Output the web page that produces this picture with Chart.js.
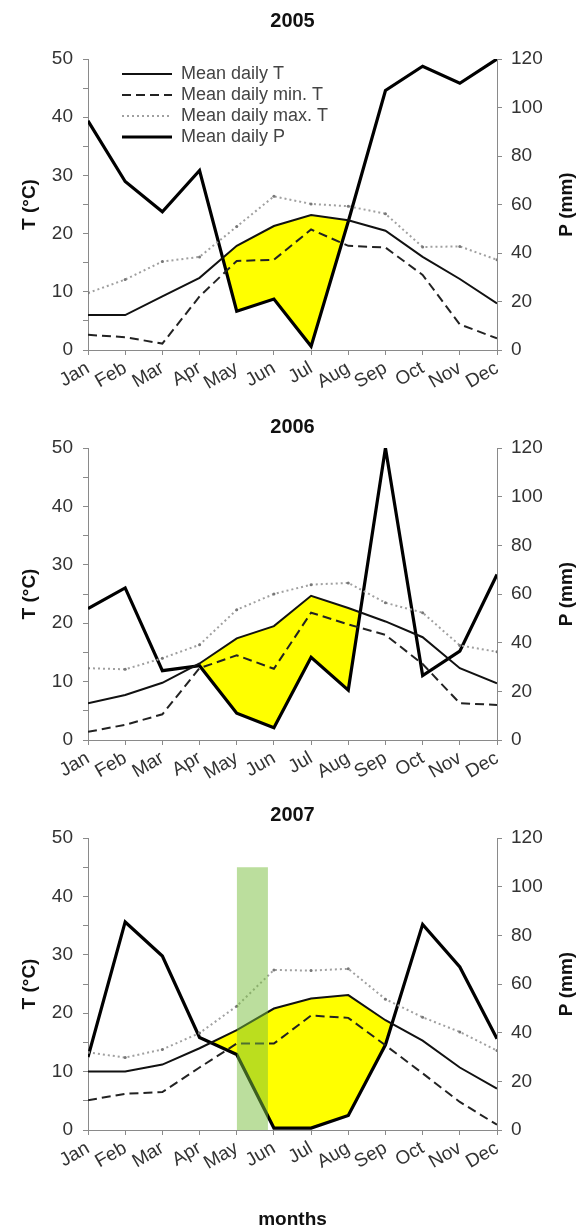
<!DOCTYPE html>
<html>
<head>
<meta charset="utf-8">
<title>Climate diagrams 2005-2007</title>
<script src="https://cdn.jsdelivr.net/npm/chart.js@4.4.1/dist/chart.umd.min.js"></script>
<style>
  body { margin: 0; background: #fff; width: 585px; height: 1231px; position: relative; overflow: hidden; }
  canvas { position: absolute; left: 0; }
  #chart2005 { top: 0; }
  #chart2006 { top: 405px; }
  #chart2007 { top: 795px; }
</style>
</head>
<body>
<canvas id="chart2005" width="585" height="405"></canvas>
<canvas id="chart2006" width="585" height="390"></canvas>
<canvas id="chart2007" width="585" height="436"></canvas>
<script>
// data
const months = ["Jan", "Feb", "Mar", "Apr", "May", "Jun", "Jul", "Aug", "Sep", "Oct", "Nov", "Dec"];
const seriesLabels = ["Mean daily T", "Mean daily min. T", "Mean daily max. T", "Mean daily P"];

const tMean2005 = [6.0, 6.0, 9.2, 12.4, 17.9, 21.3, 23.2, 22.3, 20.5, 16.0, 12.2, 8.0];
const tMin2005  = [2.6, 2.2, 1.1, 9.2, 15.3, 15.5, 20.7, 17.9, 17.6, 12.9, 4.4, 2.0];
const tMax2005  = [9.8, 12.1, 15.2, 16.0, 21.2, 26.4, 25.1, 24.7, 23.4, 17.7, 17.8, 15.5];
const p2005     = [94.5, 69.5, 57, 74, 16, 21, 1.5, 53, 107, 117, 110, 120];

const tMean2006 = [6.3, 7.7, 9.8, 13.1, 17.4, 19.5, 24.7, 22.6, 20.3, 17.6, 12.3, 9.7];
const tMin2006  = [1.4, 2.6, 4.4, 12.3, 14.5, 12.2, 21.8, 19.8, 18.0, 13.0, 6.3, 6.0];
const tMax2006  = [12.3, 12.1, 14.0, 16.3, 22.3, 25.0, 26.6, 26.9, 23.5, 21.8, 16.2, 15.1];
const p2006     = [54, 62.5, 28.5, 30.5, 11, 5, 34, 20.5, 120, 26.5, 36.5, 68];

const tMean2007 = [10.0, 10.0, 11.2, 14.0, 17.1, 20.8, 22.5, 23.1, 18.8, 15.3, 10.7, 7.1];
const tMin2007  = [5.1, 6.2, 6.5, 10.7, 14.8, 14.8, 19.6, 19.2, 14.5, 9.7, 4.8, 0.9];
const tMax2007  = [13.3, 12.4, 13.8, 16.6, 21.2, 27.4, 27.3, 27.6, 22.4, 19.3, 16.8, 13.6];
const p2007     = [30, 85.5, 71.5, 38, 31, 0.8, 0.8, 6, 35, 84.5, 67, 37.5];

// months (first, last index) where the dry season is shaded yellow
const dryRange2005 = [3, 8];
const dryRange2006 = [3, 8];
const dryRange2007 = [2, 9];

// green period in 2007 (month index from / to) and its height in °C
const greenBand2007 = [4.0, 4.84];
const greenBandTop = 45;

const tAxisMax = 50;
const pAxisMax = 120;
const tAxisTitle = "T (°C)";
const pAxisTitle = "P (mm)";
const xAxisTitle = "months";


Chart.defaults.font.family = "'Liberation Sans', Arial, sans-serif";
Chart.defaults.color = "#333";

const yellow = "#ffff00";
const green = "rgba(120,190,60,0.5)";
const axisGray = "#8a8a8a";

// right axis title reads bottom-to-top like the left one
const rightTitle = {
    id: "rightTitle",
    afterDraw(chart) {
        const { ctx, chartArea } = chart;
        ctx.save();
        ctx.translate(chartArea.right + 70, (chartArea.top + chartArea.bottom) / 2);
        ctx.rotate(-Math.PI / 2);
        ctx.font = "bold 19px 'Liberation Sans', Arial, sans-serif";
        ctx.fillStyle = "#111";
        ctx.textAlign = "center";
        ctx.textBaseline = "middle";
        ctx.fillText(pAxisTitle, 0, 0);
        ctx.restore();
    }
};

// nudge the in-plot legend away from the axis
const legendShift = {
    id: "legendShift",
    afterLayout(chart) {
        const lg = chart.legend;
        if (!lg || !chart.options.plugins.legend.display) return;
        const w = lg.width, h = lg.height;
        lg.left = chart.chartArea.left + 31;
        lg.top = chart.chartArea.top + 3;
        lg.right = lg.left + w;
        lg.bottom = lg.top + h;
    }
};

function toPoints(values) {
    return values.map((v, i) => ({ x: i, y: v }));
}

function makeClimateChart(id, year, tMean, tMin, tMax, p, dryRange, opts) {

    const dryP = p.map((v, i) => (i >= dryRange[0] && i <= dryRange[1] ? v : null));

    const datasets = [
        {
            label: seriesLabels[0],
            data: toPoints(tMean),
            yAxisID: "y",
            borderColor: "#111",
            borderWidth: 2,
            pointRadius: 0,
            fill: false
        },
        {
            label: seriesLabels[1],
            data: toPoints(tMin),
            yAxisID: "y",
            borderColor: "#222",
            borderWidth: 2,
            borderDash: [9, 5],
            pointRadius: 0,
            fill: false
        },
        {
            label: seriesLabels[2],
            data: toPoints(tMax),
            yAxisID: "y",
            borderColor: "#a0a0a0",
            borderWidth: 2,
            borderDash: [2, 3],
            pointRadius: 1.5,
            pointBackgroundColor: "#777",
            pointBorderWidth: 0,
            fill: false
        },
        {
            label: seriesLabels[3],
            data: toPoints(p),
            yAxisID: "y1",
            borderColor: "#000",
            borderWidth: 3.2,
            pointRadius: 0,
            fill: false
        },
        {
            // yellow dry-season area between P and T
            label: "",
            data: toPoints(dryP),
            yAxisID: "y1",
            borderWidth: 0,
            pointRadius: 0,
            spanGaps: false,
            backgroundColor: yellow,
            fill: { target: 0, above: "transparent", below: yellow }
        }
    ];

    if (opts.band) {
        datasets.push({
            label: "",
            data: opts.band.map(x => ({ x, y: greenBandTop })),
            yAxisID: "y",
            borderWidth: 0,
            pointRadius: 0,
            backgroundColor: green,
            fill: "origin",
            order: -1
        });
    }

    const tickGrid = { drawOnChartArea: false, drawTicks: true, tickLength: 5, color: axisGray };

    new Chart(document.querySelector(id), {
        type: "line",
        data: { datasets },
        options: {
            responsive: false,
            animation: false,
            devicePixelRatio: 1,
            events: [],
            layout: { padding: 0 },
            plugins: {
                tooltip: { enabled: false },
                title: {
                    display: true,
                    text: year,
                    fullSize: false,
                    color: "#111",
                    font: { size: 20, weight: "bold" },
                    padding: opts.titlePad
                },
                legend: {
                    display: !!opts.legend,
                    position: "chartArea",
                    align: "start",
                    labels: {
                        usePointStyle: true,
                        pointStyle: "line",
                        pointStyleWidth: 50,
                        boxHeight: 18,
                        padding: 3,
                        color: "#444",
                        font: { size: 18 },
                        generateLabels: chart => chart.data.datasets
                            .filter(ds => ds.label)
                            .map((ds, i) => ({
                                text: ds.label,
                                strokeStyle: ds.borderColor,
                                fillStyle: "transparent",
                                lineWidth: ds.borderWidth,
                                lineDash: ds.borderDash || [],
                                pointStyle: "line",
                                fontColor: "#444",
                                hidden: false,
                                datasetIndex: i
                            }))
                    }
                }
            },
            scales: {
                x: {
                    type: "linear",
                    min: 0,
                    max: months.length - 1,
                    grid: tickGrid,
                    border: { color: axisGray },
                    ticks: {
                        stepSize: 1,
                        autoSkip: false,
                        minRotation: 30,
                        maxRotation: 30,
                        padding: 2,
                        color: "#333",
                        font: { size: 19 },
                        callback: v => months[v]
                    },
                    title: {
                        display: !!opts.xTitle,
                        text: xAxisTitle,
                        color: "#111",
                        font: { size: 19, weight: "bold" },
                        padding: { top: 0, bottom: 0 }
                    },
                    afterFit: s => { s.height = opts.xHeight; }
                },
                y: {
                    position: "left",
                    min: 0,
                    max: tAxisMax,
                    grid: tickGrid,
                    border: { color: axisGray },
                    ticks: {
                        stepSize: 5,
                        padding: 10,
                        color: "#333",
                        font: { size: 19 },
                        callback: v => (v % 10 === 0 ? v : "")
                    },
                    title: {
                        display: true,
                        text: tAxisTitle,
                        color: "#111",
                        font: { size: 19, weight: "bold" },
                        padding: { top: 18, bottom: 0 }
                    },
                    afterFit: s => { s.width = 88; }
                },
                y1: {
                    position: "right",
                    min: 0,
                    max: pAxisMax,
                    grid: tickGrid,
                    border: { color: axisGray },
                    ticks: {
                        stepSize: 10,
                        padding: 9,
                        color: "#333",
                        font: { size: 19 },
                        callback: v => (v % 20 === 0 ? v : "")
                    },
                    afterFit: s => { s.width = 88; }
                }
            }
        },
        plugins: [rightTitle, legendShift]
    });
}


makeClimateChart("#chart2005", "2005", tMean2005, tMin2005, tMax2005, p2005, dryRange2005,
    { legend: true, titlePad: { top: 9, bottom: 26 }, xHeight: 55 });

makeClimateChart("#chart2006", "2006", tMean2006, tMin2006, tMax2006, p2006, dryRange2006,
    { titlePad: { top: 10, bottom: 9 }, xHeight: 55 });

makeClimateChart("#chart2007", "2007", tMean2007, tMin2007, tMax2007, p2007, dryRange2007,
    { band: greenBand2007, xTitle: true, titlePad: { top: 8, bottom: 11 }, xHeight: 101 });
</script>
</body>
</html>
